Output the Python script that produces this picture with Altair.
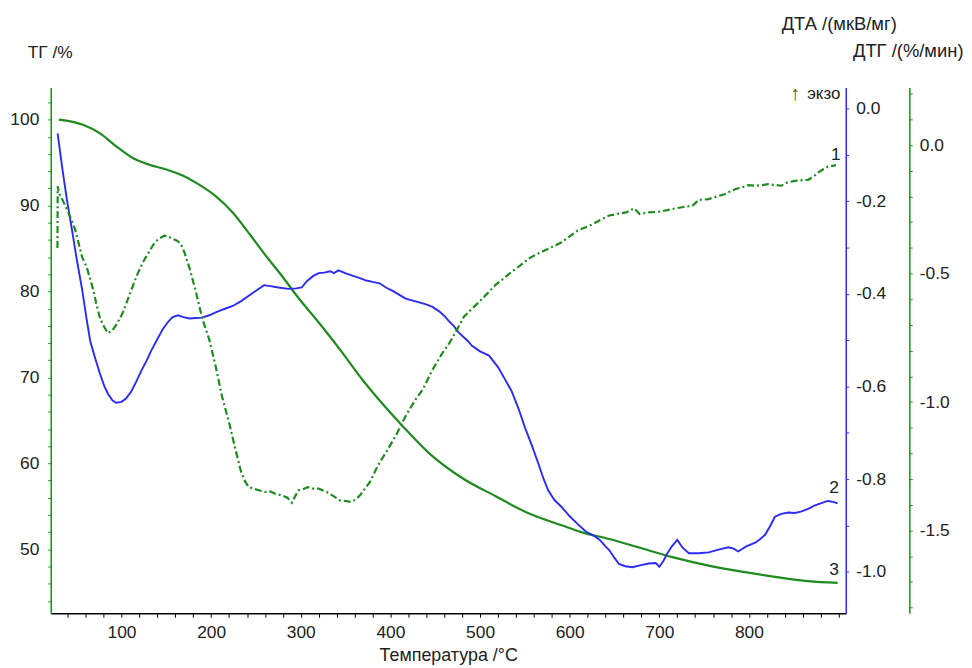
import altair as alt
import pandas as pd

FONT = "Liberation Sans"
GREEN = "#1f8a1f"
BLUE = "#2b2bf2"
INK = "#222222"

# ---------------- data ----------------
T_TG = [30, 57, 76, 94, 113, 131, 150, 168, 187, 205, 224, 242, 260, 279, 297, 320,
        336, 344, 369, 414, 443, 480, 517, 554, 591, 613, 644, 681, 718, 755, 792,
        829, 866, 899]
TG = [100.0, 99.4, 98.4, 96.9, 95.5, 94.75, 94.2, 93.5, 92.4, 91.1, 89.2, 86.8, 84.3,
      81.8, 79.3, 76.4, 74.3, 73.2, 69.7, 64.3, 61.2, 58.3, 56.2, 54.2, 52.8, 52.0,
      51.2, 50.1, 49.0, 48.1, 47.4, 46.8, 46.3, 46.1]

T_DTA = [28.7, 34, 39, 45, 50, 56, 61, 65, 70, 76, 81, 85, 90, 94, 100, 105, 111, 117,
         122, 128, 133, 139, 146, 152, 157, 163, 169, 176, 183, 190, 198, 205, 214, 224,
         233, 242, 250, 259, 266, 275, 286, 295, 301, 307, 314, 320, 326, 333, 337, 342,
         351, 360, 366, 373, 380, 388, 395, 403, 410, 417, 428, 439, 447, 454, 460, 465,
         471, 476, 486, 491, 500, 510, 520, 528, 535, 543, 550, 558, 565, 571, 576, 583,
         591, 600, 609, 618, 626, 633, 640, 644, 650, 655, 662, 670, 676, 681, 688, 696,
         700, 705, 709, 714, 720, 726, 733, 744, 755, 766, 777, 783, 788, 797, 807, 812,
         818, 824, 829, 836, 844, 851, 858, 866, 873, 880, 888, 894, 899]
DTA = [-0.053, -0.13, -0.196, -0.265, -0.325, -0.39, -0.454, -0.501, -0.535, -0.573,
       -0.600, -0.616, -0.630, -0.635, -0.633, -0.626, -0.610, -0.587, -0.566, -0.544,
       -0.523, -0.501, -0.476, -0.460, -0.450, -0.446, -0.450, -0.453, -0.452, -0.451,
       -0.446, -0.440, -0.433, -0.426, -0.416, -0.404, -0.393, -0.381, -0.383, -0.386,
       -0.389, -0.388, -0.386, -0.372, -0.361, -0.355, -0.354, -0.351, -0.355, -0.349,
       -0.356, -0.362, -0.366, -0.371, -0.374, -0.377, -0.386, -0.394, -0.402, -0.410,
       -0.416, -0.422, -0.428, -0.437, -0.447, -0.458, -0.470, -0.483, -0.501, -0.512,
       -0.524, -0.533, -0.558, -0.585, -0.609, -0.648, -0.688, -0.728, -0.766, -0.800,
       -0.824, -0.845, -0.860, -0.880, -0.897, -0.913, -0.921, -0.930, -0.945, -0.953,
       -0.970, -0.983, -0.988, -0.990, -0.987, -0.985, -0.982, -0.981, -0.989, -0.975,
       -0.960, -0.945, -0.931, -0.948, -0.960, -0.960, -0.958, -0.952, -0.947, -0.950,
       -0.956, -0.945, -0.937, -0.930, -0.920, -0.900, -0.881, -0.875, -0.872, -0.873,
       -0.870, -0.864, -0.857, -0.852, -0.847, -0.849, -0.852]

T_DTG = [28.5, 28.8, 30, 35, 39, 44, 48, 52, 56, 61, 65, 69, 72, 76, 81, 85, 90, 94, 98,
         102, 107, 113, 118, 124, 130, 135, 141, 148, 152, 157, 162, 166, 170, 176, 183,
         190, 198, 205, 212, 220, 227, 233, 238, 242, 250, 255, 260, 266, 272, 279, 285,
         290, 294, 297, 302, 308, 314, 320, 329, 336, 344, 350, 356, 361, 366, 371, 377,
         386, 395, 406, 417, 428, 436, 447, 458, 465, 473, 482, 490, 499, 508, 517, 526,
         535, 545, 554, 563, 572, 581, 591, 600, 609, 618, 626, 635, 644, 653, 663, 672,
         678, 688, 700, 709, 718, 727, 737, 744, 750, 755, 764, 773, 779, 785, 792, 799,
         807, 814, 822, 829, 836, 843, 851, 858, 866, 872, 877, 883, 888, 897]
DTG = [-0.40, -0.16, -0.184, -0.22, -0.249, -0.29, -0.326, -0.38, -0.436, -0.474, -0.52,
       -0.571, -0.62, -0.674, -0.71, -0.732, -0.72, -0.700, -0.675, -0.648, -0.60, -0.545,
       -0.50, -0.455, -0.42, -0.390, -0.365, -0.352, -0.355, -0.365, -0.372, -0.384,
       -0.416, -0.480, -0.571, -0.674, -0.758, -0.861, -0.977, -1.080, -1.183, -1.267,
       -1.31, -1.331, -1.340, -1.345, -1.350, -1.348, -1.358, -1.363, -1.372, -1.392,
       -1.365, -1.344, -1.340, -1.331, -1.337, -1.337, -1.350, -1.365, -1.383, -1.385,
       -1.389, -1.380, -1.363, -1.340, -1.312, -1.247, -1.196, -1.131, -1.054, -0.990,
       -0.951, -0.874, -0.809, -0.775, -0.726, -0.668, -0.640, -0.610, -0.578, -0.545,
       -0.520, -0.494, -0.468, -0.442, -0.425, -0.410, -0.395, -0.378, -0.355, -0.332,
       -0.320, -0.307, -0.290, -0.274, -0.268, -0.262, -0.246, -0.268, -0.262, -0.259,
       -0.253, -0.246, -0.241, -0.236, -0.213, -0.212, -0.210, -0.200, -0.191, -0.180,
       -0.171, -0.165, -0.156, -0.158, -0.156, -0.152, -0.155, -0.158, -0.145, -0.139,
       -0.137, -0.135, -0.123, -0.107, -0.094, -0.084, -0.078]

# curve labels
LBL1 = {"T": [897], "v": [-0.039], "s": ["1"]}     # DTG curve
LBL2 = {"T": [895], "v": [-0.819], "s": ["2"]}     # DTA curve
LBL3 = {"T": [895], "v": [47.6], "s": ["3"]}       # TG curve
EXO_ARROW = {"T": [852], "v": [0.031], "s": ["↑"]}
EXO_TEXT = {"T": [902], "v": [0.031], "s": ["экзо"]}

X_TICKS = list(range(40, 901, 20))
TG_TICKS = list(range(44, 103, 2))
DTA_TICKS = [round(-1.0 + 0.1 * i, 1) for i in range(11)]
DTG_TICKS = [round(-1.8 + 0.1 * i, 1) for i in range(21)]

# ---------------- scales ----------------
X_DOM = [21, 908]
TG_DOM = [42.56, 103.73]
DTA_DOM = [-1.0895, 0.0457]
DTG_DOM = [-1.822, 0.224]


def sc(dom):
    return alt.Scale(domain=dom, nice=False, zero=False)


x_axis = alt.Axis(values=X_TICKS,
                  labelExpr="datum.value % 100 == 0 && datum.value < 900 ? datum.value : ''",
                  tickSize=4, tickColor="black", domainColor="black", domainWidth=1.5,
                  labelPadding=6, labelOverlap=False, labelFlush=False,
                  title="Температура /°C", titleAngle=0, titleX=400, titleY=48,
                  titleFontSize=18, titleAlign="center", titleBaseline="alphabetic")

tg_axis = alt.Axis(orient="left", values=TG_TICKS,
                   labelExpr="datum.value % 10 == 0 ? datum.value : ''",
                   tickSize=3, tickColor=GREEN, domainColor=GREEN, domainWidth=1.5,
                   labelPadding=9, labelOverlap=False,
                   title="ТГ /%", titleAngle=0, titleX=-1, titleY=-30, titleFontSize=17.5,
                   titleAlign="center", titleBaseline="alphabetic")

dta_axis = alt.Axis(orient="right", values=DTA_TICKS,
                    labelExpr="abs(round(datum.value*10)) % 2 == 0 ? replace(format(datum.value, '.1f'), '\u2212', '-') : ''",
                    tickSize=3, tickColor=BLUE, domainColor=BLUE, domainWidth=1.5,
                    labelPadding=7, labelOverlap=False,
                    title="ДТА /(мкВ/мг)", titleAngle=0, titleX=-65, titleY=-58,
                    titleFontSize=18.5, titleAlign="left", titleBaseline="alphabetic")

dtg_axis = alt.Axis(orient="right", offset=64, values=DTG_TICKS,
                    labelExpr="abs(round(datum.value*10)) % 5 == 0 ? replace(format(datum.value, '.1f'), '\u2212', '-') : ''",
                    tickSize=3, tickColor=GREEN, domainColor=GREEN, domainWidth=1.5,
                    labelPadding=7, labelOverlap=False,
                    title="ДТГ /(%/мин)", titleAngle=0, titleX=54, titleY=-31,
                    titleFontSize=18.5, titleAlign="right", titleBaseline="alphabetic")

df_tg = pd.DataFrame({"T": T_TG, "v": TG})
df_dta = pd.DataFrame({"T": T_DTA, "v": DTA})
df_dtg = pd.DataFrame({"T": T_DTG, "v": DTG})


def label(d, ydom, color=INK, align="center", size=17.5):
    return alt.Chart(pd.DataFrame(d)).mark_text(
        font=FONT, fontSize=size, color=color, align=align, baseline="middle"
    ).encode(
        x=alt.X("T:Q", scale=sc(X_DOM), axis=None),
        y=alt.Y("v:Q", scale=sc(ydom), axis=None),
        text="s:N",
    )


tg_line = alt.Chart(df_tg).mark_line(color=GREEN, strokeWidth=2.2, interpolate="monotone").encode(
    x=alt.X("T:Q", scale=sc(X_DOM), axis=x_axis),
    y=alt.Y("v:Q", scale=sc(TG_DOM), axis=tg_axis),
)

dta_line = alt.Chart(df_dta).mark_line(color=BLUE, strokeWidth=1.9).encode(
    x=alt.X("T:Q", scale=sc(X_DOM), axis=None),
    y=alt.Y("v:Q", scale=sc(DTA_DOM), axis=dta_axis),
)

dtg_line = alt.Chart(df_dtg).mark_line(color=GREEN, strokeWidth=2.2,
                                       strokeDash=[7, 3, 2, 3]).encode(
    x=alt.X("T:Q", scale=sc(X_DOM), axis=None),
    y=alt.Y("v:Q", scale=sc(DTG_DOM), axis=dtg_axis),
)

chart = (
    alt.layer(
        tg_line, dta_line, dtg_line,
        label(LBL3, TG_DOM),
        label(LBL2, DTA_DOM),
        label(LBL1, DTG_DOM),
        label(EXO_ARROW, DTA_DOM, color="#5a4028", size=20),
        label(EXO_TEXT, DTA_DOM, align="right", size=17),
    )
    .resolve_scale(x="independent", y="independent")
    .resolve_axis(x="independent", y="independent")
    .properties(
        width=800,
        height=529,
        autosize=alt.AutoSizeParams(type="none"),
        padding={"left": 43, "top": 78, "right": 119, "bottom": 50},
        background="white",
    )
    .configure_view(stroke=None)
    .configure_axis(
        labelFont=FONT, titleFont=FONT, labelFontSize=17.5, titleFontSize=17,
        labelColor=INK, titleColor=INK, titleFontWeight="normal", grid=False,
    )
)

chart.save("out.html", embed_options={"renderer": "svg", "actions": False})
